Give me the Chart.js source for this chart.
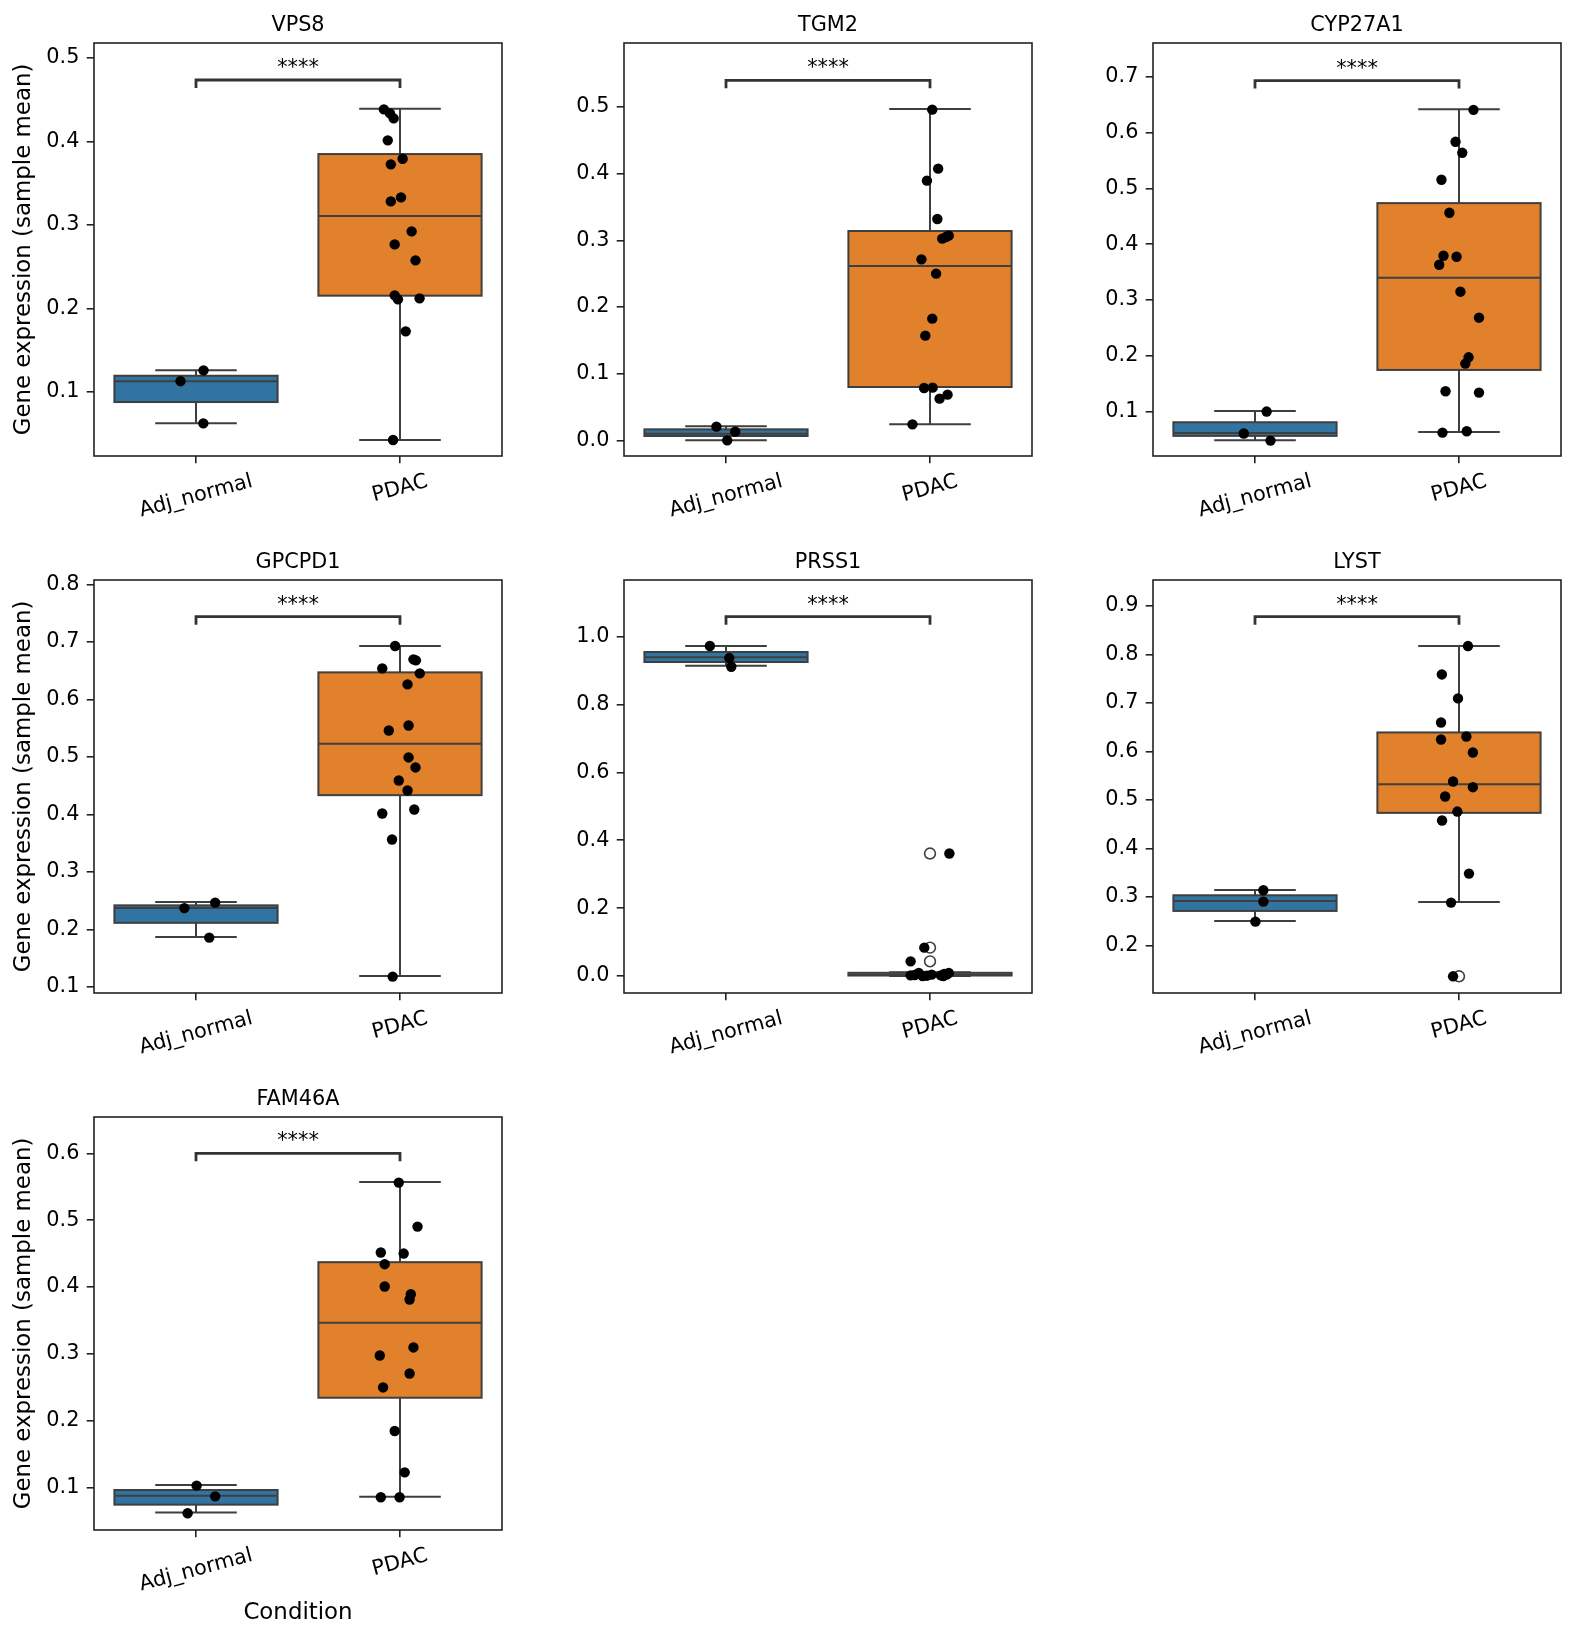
<!DOCTYPE html>
<html>
<head>
<meta charset="utf-8">
<script src="https://cdn.jsdelivr.net/npm/chart.js@4.4.1/dist/chart.umd.min.js"></script>
<style>
  html, body { margin: 0; padding: 0; background: #fff; }
  #fig { position: relative; width: 1575px; height: 1641px; overflow: hidden; background: #fff; }
  #fig canvas { position: absolute; }
</style>
</head>
<body>
<div id="fig"></div>
<script>
// ---- data ----
const genes = ['VPS8', 'TGM2', 'CYP27A1', 'GPCPD1', 'PRSS1', 'LYST', 'FAM46A'];
const groups = ['Adj_normal', 'PDAC'];
const stars = '****';

// per gene: sample means (strip points) and their horizontal jitter
const adjValues = [
  [0.126, 0.113, 0.0625],
  [0.0205, 0.013, 0.0],
  [0.1005, 0.0612, 0.0486],
  [0.2466, 0.237, 0.1857],
  [0.9725, 0.937, 0.9115],
  [0.3136, 0.2902, 0.2489],
  [0.103, 0.087, 0.0617]
];
const adjJitter = [
  [0.037, -0.076, 0.036],
  [-0.047, 0.045, 0.006],
  [0.057, -0.055, 0.076],
  [0.094, -0.057, 0.065],
  [-0.079, 0.016, 0.026],
  [0.041, 0.041, 0.002],
  [0.003, 0.094, -0.041]
];
const pdacValues = [
  [0.4385, 0.4337, 0.4277, 0.4014, 0.3794, 0.3727, 0.3331, 0.3283, 0.2924, 0.2768, 0.2577, 0.2158, 0.2110, 0.2122, 0.1727, 0.0425],
  [0.496, 0.4075, 0.3895, 0.332, 0.3025, 0.305, 0.307, 0.2715, 0.25, 0.1825, 0.157, 0.0785, 0.079, 0.0625, 0.0685, 0.024],
  [0.6404, 0.5832, 0.5635, 0.5153, 0.4563, 0.3794, 0.3776, 0.3633, 0.315, 0.2685, 0.1976, 0.1863, 0.1368, 0.1344, 0.0629, 0.0653],
  [0.6927, 0.6695, 0.6678, 0.6538, 0.6451, 0.626, 0.5546, 0.5459, 0.499, 0.4816, 0.4589, 0.4415, 0.4085, 0.4015, 0.3563, 0.1179],
  [0.361, 0.0836, 0.0433, 0.002, 0.009, 0.0, 0.004, 0.002, 0.0, 0.004, 0.009, 0.003, 0.001, 0.006],
  [0.8174, 0.7589, 0.7094, 0.6598, 0.6247, 0.6309, 0.5979, 0.538, 0.5263, 0.507, 0.476, 0.4575, 0.348, 0.2882, 0.1361],
  [0.5562, 0.4904, 0.4516, 0.4501, 0.4342, 0.4008, 0.3893, 0.3814, 0.3097, 0.2977, 0.2708, 0.2499, 0.1847, 0.1229, 0.0856, 0.0856]
];
const pdacJitter = [
  [-0.079, -0.049, -0.031, -0.06, 0.013, -0.045, 0.005, -0.045, 0.057, -0.026, 0.076, -0.026, -0.01, 0.096, 0.028, -0.034],
  [0.011, 0.04, -0.015, 0.036, 0.06, 0.078, 0.092, -0.042, 0.03, 0.011, -0.023, -0.029, 0.013, 0.047, 0.086, -0.086],
  [0.071, -0.017, 0.016, -0.086, -0.047, -0.076, -0.012, -0.097, 0.007, 0.098, 0.047, 0.031, -0.066, 0.098, -0.081, 0.038],
  [-0.024, 0.066, 0.078, -0.087, 0.097, 0.037, 0.042, -0.055, 0.042, 0.076, -0.006, 0.037, 0.07, -0.087, -0.039, -0.036],
  [0.095, -0.028, -0.095, -0.095, -0.055, -0.036, 0.008, 0.053, 0.065, 0.081, 0.092, -0.075, -0.015, 0.07],
  [0.044, -0.084, -0.005, -0.088, -0.088, 0.036, 0.068, -0.029, 0.068, -0.068, -0.008, -0.083, 0.049, -0.039, -0.029],
  [-0.006, 0.086, -0.094, 0.018, -0.075, -0.075, 0.053, 0.047, 0.066, -0.099, 0.047, -0.083, -0.026, 0.023, -0.094, -0.002]
];

// box statistics: [lower whisker, q1, median, q3, upper whisker]
const adjBox = [
  [0.0625, 0.088, 0.113, 0.1195, 0.126],
  [0.0, 0.0065, 0.01, 0.0165, 0.021],
  [0.0492, 0.057, 0.0623, 0.0814, 0.1017],
  [0.1869, 0.2114, 0.237, 0.2418, 0.2478],
  [0.9145, 0.9253, 0.939, 0.9548, 0.9725],
  [0.2503, 0.271, 0.2916, 0.3033, 0.3143],
  [0.0627, 0.0746, 0.088, 0.0965, 0.104]
];
const pdacBox = [
  [0.0425, 0.2154, 0.3108, 0.385, 0.4393],
  [0.024, 0.08, 0.2615, 0.314, 0.497],
  [0.0641, 0.175, 0.34, 0.4735, 0.6416],
  [0.119, 0.4334, 0.5227, 0.6469, 0.6927],
  [0.0, 0.0015, 0.004, 0.0095, 0.011],
  [0.2895, 0.4733, 0.5325, 0.6392, 0.8174],
  [0.0866, 0.2345, 0.3465, 0.4372, 0.5572]
];

// axis limits, ticks and bracket height
const yMin = [0.0234, -0.0235, 0.021, 0.0894, -0.050, 0.1017, 0.0367];
const yMax = [0.518, 0.596, 0.76, 0.8075, 1.167, 0.9537, 0.6543];
const yTicks = [
  [0.1, 0.2, 0.3, 0.4, 0.5],
  [0.0, 0.1, 0.2, 0.3, 0.4, 0.5],
  [0.1, 0.2, 0.3, 0.4, 0.5, 0.6, 0.7],
  [0.1, 0.2, 0.3, 0.4, 0.5, 0.6, 0.7, 0.8],
  [0.0, 0.2, 0.4, 0.6, 0.8, 1.0],
  [0.2, 0.3, 0.4, 0.5, 0.6, 0.7, 0.8, 0.9],
  [0.1, 0.2, 0.3, 0.4, 0.5, 0.6]
];
const bracketY = [0.4737, 0.54, 0.6928, 0.7437, 1.059, 0.878, 0.6];

const yLabel = 'Gene expression (sample mean)';
const xLabel = 'Condition';

// ---- styling ----
const FONT = '"DejaVu Sans", "Liberation Sans", sans-serif';
const LINE = '#3f3f3f';
const SPINE = '#222222';
const boxColors = ['#3274a1', '#e1812c'];
Chart.defaults.font.family = FONT;
Chart.defaults.color = '#000';

// draws boxes, whiskers, frame, significance bracket, titles and rotated x labels
const boxPlugin = {
  id: 'boxes',
  beforeDatasetsDraw(chart, args, opts) {
    const { ctx, scales: { x, y } } = chart;
    const g = opts.gene;
    [adjBox[g], pdacBox[g]].forEach((b, k) => {
      const [lo, q1, med, q3, hi] = b;
      const xc = x.getPixelForValue(k);
      const xl = x.getPixelForValue(k - 0.4), xr = x.getPixelForValue(k + 0.4);
      const cl = x.getPixelForValue(k - 0.2), cr = x.getPixelForValue(k + 0.2);
      ctx.save();
      ctx.lineWidth = 2;
      ctx.strokeStyle = LINE;
      ctx.beginPath();
      ctx.moveTo(xc, y.getPixelForValue(q1)); ctx.lineTo(xc, y.getPixelForValue(lo));
      ctx.moveTo(xc, y.getPixelForValue(q3)); ctx.lineTo(xc, y.getPixelForValue(hi));
      ctx.moveTo(cl, y.getPixelForValue(lo)); ctx.lineTo(cr, y.getPixelForValue(lo));
      ctx.moveTo(cl, y.getPixelForValue(hi)); ctx.lineTo(cr, y.getPixelForValue(hi));
      ctx.stroke();
      const top = y.getPixelForValue(q3), bot = y.getPixelForValue(q1);
      ctx.fillStyle = boxColors[k];
      ctx.fillRect(xl, top, xr - xl, bot - top);
      ctx.strokeRect(xl, top, xr - xl, bot - top);
      ctx.beginPath();
      ctx.moveTo(xl, y.getPixelForValue(med)); ctx.lineTo(xr, y.getPixelForValue(med));
      ctx.stroke();
      ctx.restore();
    });
  },
  afterDraw(chart, args, opts) {
    const { ctx, chartArea: a, scales: { x, y } } = chart;
    const g = opts.gene;
    ctx.save();
    // frame
    ctx.strokeStyle = SPINE;
    ctx.lineWidth = 1.6;
    ctx.strokeRect(a.left, a.top, a.right - a.left, a.bottom - a.top);
    // bracket + stars
    const yb = y.getPixelForValue(bracketY[g]);
    const x0 = x.getPixelForValue(0), x1 = x.getPixelForValue(1);
    ctx.strokeStyle = '#333';
    ctx.lineWidth = 2.8;
    ctx.beginPath();
    ctx.moveTo(x0, yb + 8); ctx.lineTo(x0, yb); ctx.lineTo(x1, yb); ctx.lineTo(x1, yb + 8);
    ctx.stroke();
    ctx.fillStyle = '#000';
    ctx.font = '20.8px ' + FONT;
    ctx.textAlign = 'center';
    ctx.textBaseline = 'alphabetic';
    ctx.fillText(stars, (x0 + x1) / 2, yb - 6);
    // title
    ctx.fillText(genes[g], (a.left + a.right) / 2, a.top - 12.5);
    // rotated category labels
    const rot = 15 * Math.PI / 180;
    groups.forEach((lab, k) => {
      const w = ctx.measureText(lab).width;
      const bh = w * Math.sin(rot) + 24.3 * Math.cos(rot);
      ctx.save();
      ctx.translate(x.getPixelForValue(k), a.bottom + 14.6 + bh / 2 - 1);
      ctx.rotate(-rot);
      ctx.textBaseline = 'middle';
      ctx.fillText(lab, 0, 0);
      ctx.restore();
    });
    ctx.restore();
  }
};

// ---- layout of the 3x3 grid (7 panels) ----
const colLeft = [94, 623.5, 1152.7];
const rowTop = [42.7, 580, 1116.7];
const AX_W = 407.5, AX_H = 413, PAD_L = 94, PAD_T = 43, PAD_R = 12;

const fig = document.getElementById('fig');

genes.forEach((gene, g) => {
  const col = g % 3, row = Math.floor(g / 3);
  const lastRow = g === 6;
  const bottomSpace = lastRow ? 110 : 80;
  const cv = document.createElement('canvas');
  const W = Math.round(PAD_L + AX_W + PAD_R), H = Math.round(PAD_T + AX_H + bottomSpace);
  cv.width = W; cv.height = H;
  cv.style.width = W + 'px'; cv.style.height = H + 'px';
  cv.style.left = (colLeft[col] - PAD_L) + 'px';
  cv.style.top = (rowTop[row] - PAD_T) + 'px';
  fig.appendChild(cv);

  const outliers = pdacValues[g]
    .filter(v => v < pdacBox[g][0] - 0.004 || v > pdacBox[g][4] + 0.004)
    .map(v => ({ x: 1, y: v }));

  const points = adjValues[g].map((v, i) => ({ x: 0 + adjJitter[g][i], y: v }))
    .concat(pdacValues[g].map((v, i) => ({ x: 1 + pdacJitter[g][i], y: v })));

  new Chart(cv, {
    type: 'scatter',
    data: {
      datasets: [
        {
          data: points,
          order: 1,
          pointRadius: 5.2,
          pointBackgroundColor: '#000',
          pointBorderWidth: 0
        },
        {
          data: outliers,
          order: 2,
          pointRadius: 5.4,
          pointBackgroundColor: 'rgba(0,0,0,0)',
          pointBorderColor: LINE,
          pointBorderWidth: 1.6
        }
      ]
    },
    options: {
      responsive: false,
      animation: false,
      devicePixelRatio: 1,
      events: [],
      layout: { padding: { top: PAD_T, right: PAD_R, left: 0, bottom: 0 } },
      plugins: {
        legend: { display: false },
        tooltip: { enabled: false },
        boxes: { gene: g }
      },
      scales: {
        x: {
          type: 'linear',
          min: -0.5,
          max: 1.5,
          afterBuildTicks: s => { s.ticks = [{ value: 0 }, { value: 1 }]; },
          afterFit: s => { s.height = bottomSpace; s.paddingLeft = 0; s.paddingRight = 0; },
          ticks: { display: false },
          grid: { display: true, drawOnChartArea: false, drawTicks: true, tickLength: 7.3, color: SPINE, lineWidth: 1.6 },
          border: { display: false },
          title: {
            display: lastRow,
            text: xLabel,
            font: { size: 22.9 },
            padding: { top: 0, bottom: 13 }
          }
        },
        y: {
          type: 'linear',
          min: yMin[g],
          max: yMax[g],
          afterBuildTicks: s => { s.ticks = yTicks[g].map(v => ({ value: v })); },
          afterFit: s => { s.width = PAD_L; s.paddingTop = 0; s.paddingBottom = 0; },
          ticks: { autoSkip: false, padding: 7.3, font: { size: 20.8 }, color: '#000', callback: v => v.toFixed(1) },
          grid: { display: true, drawOnChartArea: false, drawTicks: true, tickLength: 7.3, color: SPINE, lineWidth: 1.6 },
          border: { display: false },
          title: {
            display: col === 0,
            text: yLabel,
            font: { size: 22.9 },
            padding: { top: 10, bottom: 0 }
          }
        }
      }
    },
    plugins: [boxPlugin]
  });
});
</script>
</body>
</html>
